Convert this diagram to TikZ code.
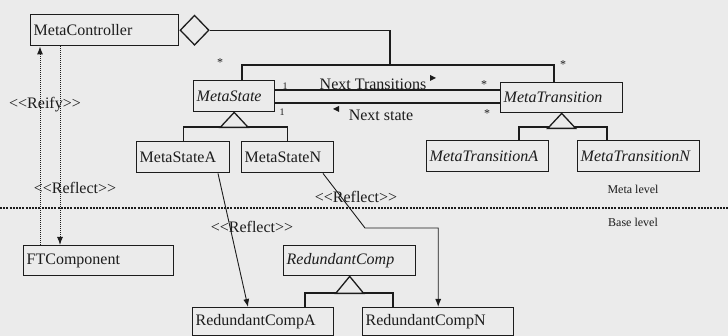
\documentclass[tikz,border=0pt]{standalone}
\usepackage{fontspec}
\setmainfont{Liberation Serif}
\usetikzlibrary{arrows.meta,shapes.geometric}
\definecolor{bg}{HTML}{EBEBEB}
\definecolor{ink}{HTML}{1C1C1C}
\newcommand{\stereo}[1]{<{}<#1>{}>}
\begin{document}
\begin{tikzpicture}[x=1pt,y=-1pt,
  cls/.style={draw=ink, line width=1.4pt, anchor=north west, inner xsep=3pt, inner ysep=0pt,
    align=left, font=\fontsize{16}{18}\selectfont, text=ink},
  icls/.style={cls, font=\fontsize{16}{18}\selectfont\itshape},
  lnk/.style={draw=ink, line width=1.3pt},
  refl/.style={draw=ink, line width=0.9pt, -{Latex[length=8pt,width=6pt]}},
  dotl/.style={draw=ink, line width=1pt, densely dotted, -{Latex[length=8pt,width=6pt]}},
  lbl/.style={inner sep=0pt, text=ink, font=\fontsize{16}{18}\selectfont},
  small/.style={inner sep=0pt, text=ink, font=\fontsize{12}{14}\selectfont},
  tiny/.style={inner sep=0pt, text=ink, font=\fontsize{10}{11}\selectfont},
  gen/.style={draw=ink, line width=1.3pt, fill=bg}]
\useasboundingbox (0,0) rectangle (728,336);
\fill[bg] (0,0) rectangle (728,336);

% classes
\node[cls,  text width=142pt, minimum height=31pt] (MC)  at (30,14)  {MetaController};
\node[icls, text width=75pt,  minimum height=31pt] (MS)  at (193,80) {MetaState};
\node[icls, text width=116pt, minimum height=30pt] (MT)  at (500,82) {MetaTransition};
\node[cls,  text width=87pt,  minimum height=31pt] (MSA) at (136,141) {MetaStateA};
\node[cls,  text width=86pt,  minimum height=31pt] (MSN) at (241,141) {MetaStateN};
\node[icls, text width=116pt, minimum height=31pt] (MTA) at (426,140) {MetaTransitionA};
\node[icls, text width=116pt, minimum height=31pt] (MTN) at (577,140) {MetaTransitionN};
\node[cls,  text width=144pt, minimum height=30pt] (FT)  at (23,245) {FTComponent};
\node[icls, text width=126pt, minimum height=30pt] (RC)  at (283,245) {RedundantComp};
\node[cls,  text width=135pt, minimum height=28pt] (RCA) at (192,307) {RedundantCompA};
\node[cls,  text width=145pt, minimum height=28pt] (RCN) at (362,307) {RedundantCompN};

% composition
\node[diamond, draw=ink, line width=1.3pt, inner sep=0pt, minimum width=29pt, minimum height=30pt,
      anchor=west] (dia) at (MC.east) {};
\coordinate (j1) at (390,65);
\coordinate (msT) at (242,65);
\coordinate (mtT) at (554,65);
\draw[lnk] (dia.east) -| (j1);
\draw[lnk] (MS.north -| msT) -- (msT) -- (mtT) -- (MT.north -| mtT);
\node[small] (s1) at (220,63) {*};
\node[small] (s2) at (563,65) {*};

% associations
\coordinate (a1) at (0,90);
\coordinate (a2) at (0,103);
\draw[lnk] (MS.east |- a1) -- (MT.west |- a1);
\draw[lnk] (MS.east |- a2) -- (MT.west |- a2);
\node[lbl] (nt) at (373,84) {Next Transitions};
\node[lbl] (ns) at (381,115) {Next state};
\node[tiny] (o1) at (285,86) {1};
\node[tiny] (o2) at (282,112) {1};
\node[small] (s3) at (484,85) {*};
\node[small] (s4) at (487,114) {*};
\fill[ink] (430,75) -- (436,78) -- (430,81) -- cycle;
\fill[ink] (339,106) -- (333,109) -- (339,112) -- cycle;

% generalizations
\draw[lnk] (MSA.north) -- ++(0,-14) -| (MSN.north);
\draw[gen] (MS.south) -- ++(-14,15) -- ++(28,0) -- cycle;

\coordinate (ta) at (519,127);
\coordinate (tb) at (607,127);
\draw[lnk] (MTA.north -| ta) -- (ta) -- (tb) -- (MTN.north -| tb);
\draw[gen] (MT.south) -- ++(-14,15) -- ++(28,0) -- cycle;

\coordinate (ra) at (305,293);
\coordinate (rb) at (393,293);
\draw[lnk] (RCA.north -| ra) -- (ra) -- (rb) -- (RCN.north -| rb);
\draw[gen] (RC.south) -- ++(-14,17) -- ++(28,0) -- cycle;

% level separator
\draw[draw=ink, line width=1.6pt, dash pattern=on 2pt off 1.2pt] (0,208) -- (728,208);
\node[small] (ml) at (633,189) {Meta level};
\node[small] (bl) at (633,222) {Base level};

% reify / reflect
\coordinate (x40) at (40,0);
\coordinate (x60) at (60,0);
\draw[dotl] (FT.north -| x40) -- (MC.south -| x40);
\draw[dotl] (MC.south -| x60) -- (FT.north -| x60);
\node[lbl] (lreify) at (45,105) {\stereo{Reify}};
\node[lbl] (lref1) at (75,188) {\stereo{Reflect}};

\coordinate (r1) at (218,0);
\coordinate (r2) at (248,0);
\draw[refl] (MSA.south -| r1) -- (RCA.north -| r2);
\node[lbl] (lref3) at (252,227) {\stereo{Reflect}};

\coordinate (r3) at (323,0);
\coordinate (c1) at (365,228);
\draw[refl] (MSN.south -| r3) -- (c1) -| (RCN.north);
\node[lbl] (lref2) at (356,197) {\stereo{Reflect}};
\end{tikzpicture}
\end{document}
